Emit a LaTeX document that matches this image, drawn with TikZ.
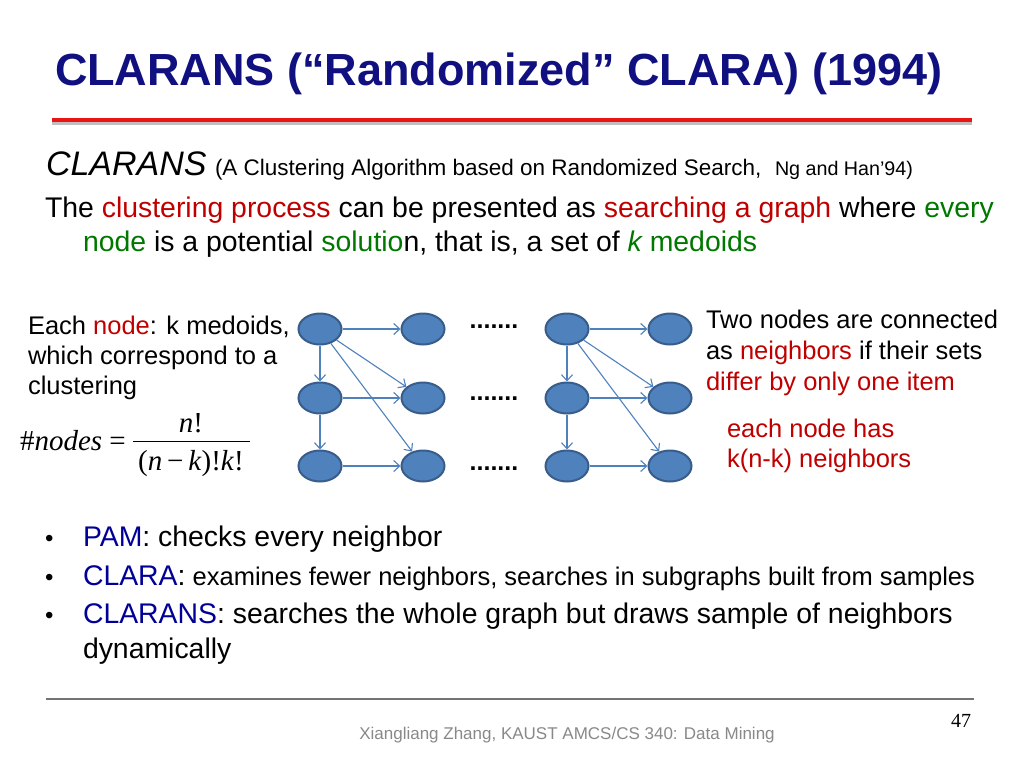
\documentclass[tikz,border=0pt]{standalone}
\usepackage{fontspec}
\setmainfont{Liberation Sans}
\newfontfamily\timesf{Liberation Serif}
\usetikzlibrary{arrows.meta,shapes.geometric}
\definecolor{titleblue}{RGB}{16,16,128}
\definecolor{redline}{RGB}{235,20,20}
\definecolor{txtred}{RGB}{192,0,0}
\definecolor{txtgreen}{RGB}{0,120,0}
\definecolor{bulblue}{RGB}{0,0,150}
\definecolor{nodefill}{RGB}{79,129,189}
\definecolor{nodeborder}{RGB}{56,93,138}
\definecolor{edgeblue}{RGB}{79,129,189}
\definecolor{footgray}{RGB}{137,137,137}
\newcommand\fsz[1]{\fontsize{#1}{#1}\selectfont}
\begin{document}
\begin{tikzpicture}[x=1pt,y=-1pt,
  txt/.style={anchor=base west,inner sep=0,outer sep=0},
  gnode/.style={ellipse,draw=nodeborder,fill=nodefill,line width=2pt,minimum width=43pt,minimum height=31pt,inner sep=0},
  edge/.style={draw=edgeblue,line width=1.1pt,-{Straight Barb[length=6pt,width=11pt]}},
  dotsn/.style={anchor=base,inner sep=0,font=\fsz{25}\bfseries}]
\useasboundingbox (0,0) rectangle (1024,768);
\fill[white] (0,0) rectangle (1024,768);
% title
\node[txt,font=\fsz{45}\bfseries,text=titleblue] (title) at (55,85) {CLARANS (“Randomized” CLARA) (1994)};
\coordinate (rlA) at (52,120);
\coordinate (rlB) at (972,120);
\draw[line width=3pt,black!25] ([yshift=-3pt]rlA) -- ([yshift=-3pt]rlB);
\draw[line width=4pt,redline] (rlA) -- (rlB);
% subtitle
\node[txt,font=\fsz{34}\itshape] (cl) at (46,175) {CLARANS};
\node[txt,font=\fsz{22.5}] (cl2) at (215,175) {(A Clustering Algorithm based on Randomized Search,};
\node[txt,font=\fsz{19.7}] (cl3) at (775,175) {Ng and Han’94)};
\node[txt,font=\fsz{28.4}] (p1) at (45,217) {The \textcolor{txtred}{clustering process} can be presented as \textcolor{txtred}{searching a graph} where \textcolor{txtgreen}{every}};
\node[txt,font=\fsz{28.4}] (p2) at (83,251) {\textcolor{txtgreen}{node} is a potential \textcolor{txtgreen}{solutio}n, that is, a set of \textcolor{txtgreen}{\itshape k} \textcolor{txtgreen}{medoids}};
% left text
\node[txt,font=\fsz{25.5}] (l1) at (28,334) {Each \textcolor{txtred}{node}: k medoids,};
\node[txt,font=\fsz{25.5}] (l2) at (28,364) {which correspond to a};
\node[txt,font=\fsz{25.5}] (l3) at (28,394) {clustering};
% formula
\node[txt,font=\fsz{29}\timesf] (f1) at (20,450) {\#\textit{nodes} =};
\node[anchor=base,inner sep=0,font=\fsz{29}\timesf] (fn) at (191,432) {\textit{n}!};
\node[anchor=base,inner sep=0,font=\fsz{29}\timesf] (fd) at (191,470) {(\textit{n}\,−\,\textit{k})!\textit{k}!};
\coordinate (fb1) at (133,441);
\coordinate (fb2) at (250,441);
\draw[line width=1pt] (fb1) -- (fb2);
% graph
\node[gnode] (a1) at (320,329) {};
\node[gnode] (a2) at (320,398) {};
\node[gnode] (a3) at (320,466) {};
\node[gnode] (b1) at (423,329) {};
\node[gnode] (b2) at (423,398) {};
\node[gnode] (b3) at (423,466) {};
\node[gnode] (c1) at (567,329) {};
\node[gnode] (c2) at (567,398) {};
\node[gnode] (c3) at (567,466) {};
\node[gnode] (d1) at (670,329) {};
\node[gnode] (d2) at (670,398) {};
\node[gnode] (d3) at (670,466) {};
\foreach \p/\q in {a/b,c/d}{
  \draw[edge] (\p1) -- (\q1);
  \draw[edge] (\p2) -- (\q2);
  \draw[edge] (\p3) -- (\q3);
  \draw[edge] (\p1) -- (\p2);
  \draw[edge] (\p2) -- (\p3);
  \draw[edge] (\p1) -- (\q2);
  \draw[edge] (\p1) -- (\q3);
}
\node[dotsn] (dt1) at (494,328) {.......};
\node[dotsn] (dt2) at (494,400) {.......};
\node[dotsn] (dt3) at (494,470) {.......};
% right text
\node[txt,font=\fsz{25.5}] (r1) at (706,328) {Two nodes are connected};
\node[txt,font=\fsz{25.5}] (r2) at (706,359) {as \textcolor{txtred}{neighbors} if their sets};
\node[txt,font=\fsz{25.5},text=txtred] (r3) at (706,390) {differ by only one item};
\node[txt,font=\fsz{25.5},text=txtred] (r4) at (727,437) {each node has};
\node[txt,font=\fsz{25.5},text=txtred] (r5) at (727,467) {k(n-k) neighbors};
% bullets
\node[txt,font=\fsz{24}] (bu1) at (45,546) {•};
\node[txt,font=\fsz{24}] (bu2) at (45,585) {•};
\node[txt,font=\fsz{24}] (bu3) at (45,623) {•};
\node[txt,font=\fsz{28.4}] (b1t) at (83,546) {\textcolor{bulblue}{PAM}: checks every neighbor};
\node[txt,font=\fsz{28.4}] (b2t) at (83,585) {\textcolor{bulblue}{CLARA}:\fsz{25.5} examines fewer neighbors, searches in subgraphs built from samples};
\node[txt,font=\fsz{28.4}] (b3t) at (83,623) {\textcolor{bulblue}{CLARANS}: searches the whole graph but draws sample of neighbors};
\node[txt,font=\fsz{28.4}] (b3u) at (83,658) {dynamically};
% footer
\coordinate (fl1) at (46,699);
\coordinate (fl2) at (974,699);
\draw[line width=1.3pt,black!55] (fl1) -- (fl2);
\node[txt,font=\fsz{20}\timesf] (pg) at (951,727) {47};
\node[anchor=base,inner sep=0,font=\fsz{17},text=footgray] (ft) at (567,739) {Xiangliang Zhang, KAUST AMCS/CS 340: Data Mining};
\end{tikzpicture}
\end{document}
